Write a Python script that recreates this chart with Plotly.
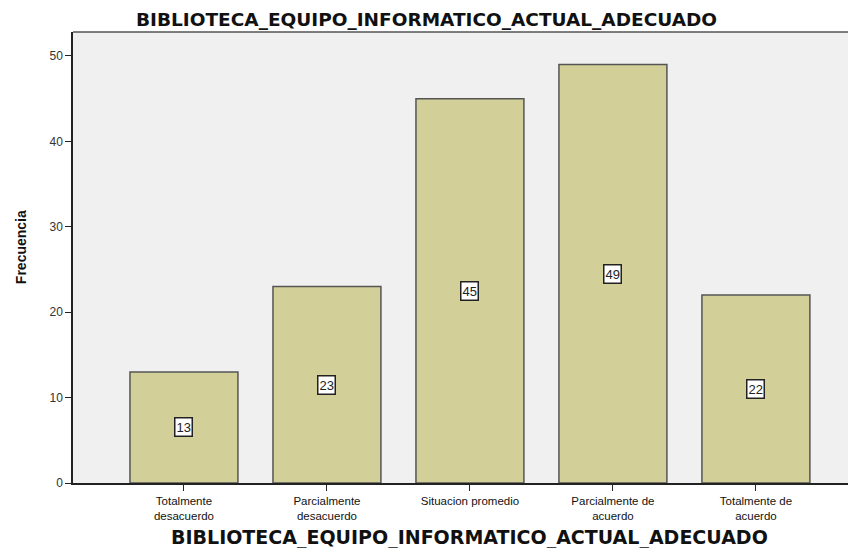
import plotly.graph_objects as go

categories = ["Totalmente<br>desacuerdo", "Parcialmente<br>desacuerdo", "Situacion promedio",
              "Parcialmente de<br>acuerdo", "Totalmente de<br>acuerdo"]
values = [13, 23, 45, 49, 22]
title_text = "BIBLIOTECA_EQUIPO_INFORMATICO_ACTUAL_ADECUADO"
y_title = "Frecuencia"
y_ticks = [0, 10, 20, 30, 40, 50]

FONT = "Liberation Sans, Arial, sans-serif"
TFONT = "DejaVu Sans, Liberation Sans, sans-serif"

fig = go.Figure()
fig.add_trace(go.Bar(
    x=list(range(len(categories))), y=values,
    width=0.755,
    marker=dict(color="#d3cf98", line=dict(color="#555555", width=1.5)),
    hoverinfo="skip",
))

annotations = []
for i, v in enumerate(values):
    annotations.append(dict(
        x=i, y=v / 2, xref="x", yref="y", text=str(v), showarrow=False,
        font=dict(family=FONT, size=13, color="#222222"),
        bgcolor="white", bordercolor="#222222", borderwidth=1.5, borderpad=1,
    ))
annotations.append(dict(
    x=0.451, y=1, xref="paper", yref="paper", yshift=13, text="<b>" + title_text + "</b>",
    showarrow=False, font=dict(family=TFONT, size=18.5, color="#111111"), yanchor="middle",
    xanchor="center",
))
annotations.append(dict(
    x=0.506, y=0, xref="paper", yref="paper", yshift=-54, text="<b>" + title_text + "</b>",
    showarrow=False, font=dict(family=TFONT, size=19, color="#111111"), yanchor="middle",
    xanchor="center",
))
annotations.append(dict(
    x=0, y=0.523, xref="paper", yref="paper", xshift=-52, text="<b>" + y_title + "</b>",
    showarrow=False, textangle=-90, font=dict(family=FONT, size=14, color="#111111"),
    xanchor="center", yanchor="middle",
))

fig.update_layout(
    width=848, height=540,
    margin=dict(l=65, r=0, t=24, b=65),
    paper_bgcolor="white", plot_bgcolor="#f0f0f0",
    showlegend=False,
    annotations=annotations,
    shapes=[dict(type="line", xref="paper", yref="paper", x0=0, x1=1, y0=1, y1=1,
                 line=dict(color="#555555", width=1.5))],
    font=dict(family=FONT),
)
fig.update_xaxes(
    range=[-0.776, 4.7], tickvals=list(range(len(categories))), ticktext=categories,
    showgrid=False, zeroline=False, showline=True, linecolor="#222222", linewidth=1.5,
    ticks="outside", ticklen=6, tickcolor="#222222",
    tickfont=dict(family=FONT, size=11.5, color="#111111"),
)
fig.update_yaxes(
    range=[0, 52.8], tickvals=y_ticks, showgrid=False, zeroline=False,
    showline=True, linecolor="#222222", linewidth=1.5,
    ticks="outside", ticklen=6, tickcolor="#222222",
    tickfont=dict(family=FONT, size=12, color="#333333"),
)
fig.write_html("out.html")
